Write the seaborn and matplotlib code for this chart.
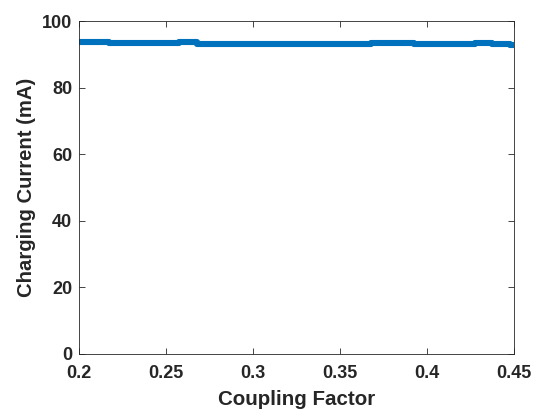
import numpy as np
import pandas as pd
import matplotlib
matplotlib.use("Agg")
import matplotlib.pyplot as plt
import seaborn as sns

coupling = [0.200, 0.205, 0.210, 0.215, 0.220, 0.225, 0.230, 0.235, 0.240, 0.245,
            0.250, 0.255, 0.260, 0.265, 0.270, 0.275, 0.280, 0.285, 0.290, 0.295,
            0.300, 0.305, 0.310, 0.315, 0.320, 0.325, 0.330, 0.335, 0.340, 0.345,
            0.350, 0.355, 0.360, 0.365, 0.370, 0.375, 0.380, 0.385, 0.390, 0.395,
            0.400, 0.405, 0.410, 0.415, 0.420, 0.425, 0.430, 0.435, 0.440, 0.445, 0.450]
current = [93.8, 93.8, 93.8, 93.6, 93.5, 93.5, 93.5, 93.5, 93.5, 93.5,
           93.5, 93.5, 93.8, 93.7, 93.0, 93.0, 93.0, 93.0, 93.0, 93.0,
           93.1, 93.1, 93.1, 93.1, 93.0, 93.2, 93.2, 93.2, 93.0, 93.0,
           93.0, 93.0, 93.0, 93.1, 93.3, 93.3, 93.3, 93.3, 93.3, 93.0,
           93.0, 93.0, 93.0, 93.0, 93.0, 93.2, 93.5, 93.3, 93.2, 93.0, 92.9]

xticks = [0.2, 0.25, 0.3, 0.35, 0.4, 0.45]
xticklabels = ["0.2", "0.25", "0.3", "0.35", "0.4", "0.45"]
yticks = [0, 20, 40, 60, 80, 100]

df = pd.DataFrame({"Coupling Factor": coupling, "Charging Current (mA)": current})

sns.set_theme(style="white")
plt.rcParams["font.family"] = ["Liberation Sans", "DejaVu Sans"]

fig = plt.figure(figsize=(5.34, 4.12), dpi=100)
ax = fig.add_axes([0.148, 0.141, 0.815, 0.808])
sns.lineplot(data=df, x="Coupling Factor", y="Charging Current (mA)", ax=ax,
             color="#0072BD", linewidth=4.4, drawstyle="steps-mid")

ax.set_xlim(0.2, 0.45)
ax.set_ylim(0, 100)
ax.set_xticks(xticks)
ax.set_xticklabels(xticklabels)
ax.set_yticks(yticks)
for s in ax.spines.values():
    s.set_visible(True)
    s.set_color("#262626")
    s.set_linewidth(0.6)
ax.tick_params(axis="both", direction="in", length=4, width=0.6, color="#262626",
               labelsize=13, labelcolor="#262626", top=True, right=True,
               bottom=True, left=True)
ax.tick_params(axis="x", pad=8)
ax.tick_params(axis="y", pad=5)
for lab in ax.get_xticklabels() + ax.get_yticklabels():
    lab.set_fontweight("bold")
ax.set_xlabel("Coupling Factor", fontsize=14.8, fontweight="bold", color="#262626", labelpad=6)
ax.set_ylabel("Charging Current (mA)", fontsize=14.6, fontweight="bold", color="#262626", labelpad=4)

fig.savefig("out.png", dpi=100)
